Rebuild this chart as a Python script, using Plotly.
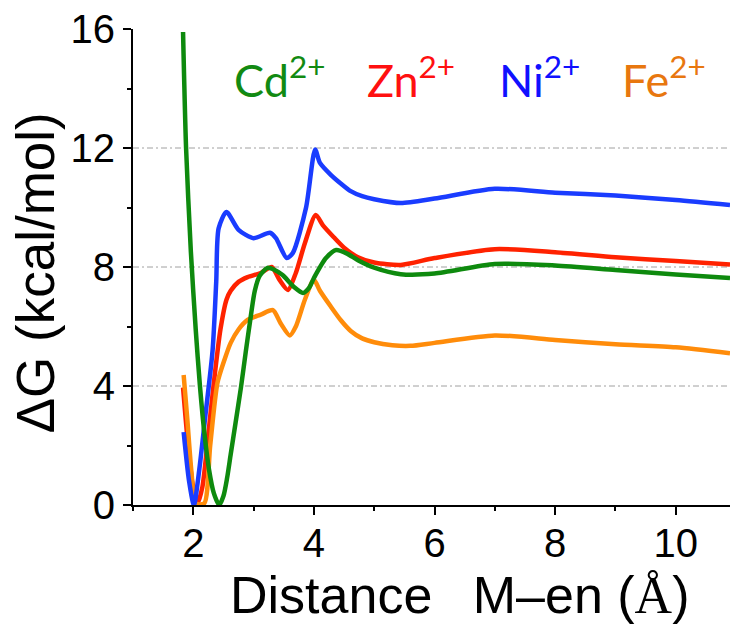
import plotly.graph_objects as go

# ---- data ----
cd_x = [1.83, 1.88, 1.96, 2.04, 2.11, 2.19, 2.26, 2.34, 2.43, 2.50, 2.56, 2.62, 2.70, 2.79, 2.87, 2.95, 3.02, 3.10, 3.23, 3.35, 3.48, 3.67, 3.82, 3.92, 4.00, 4.20, 4.37, 4.55, 4.73, 5.00, 5.44, 6.00, 7.00, 8.00, 9.00, 10.00, 10.90]
cd_y = [15.9, 12.0, 8.5, 5.9, 4.0, 2.3, 1.2, 0.4, 0.0, 0.3, 0.9, 1.7, 2.75, 3.95, 5.15, 6.3, 7.2, 7.7, 7.97, 7.9, 7.73, 7.33, 7.13, 7.3, 7.63, 8.3, 8.57, 8.45, 8.23, 7.98, 7.76, 7.78, 8.1, 8.05, 7.9, 7.75, 7.63]

zn_x = [1.83, 1.90, 1.98, 2.07, 2.15, 2.24, 2.34, 2.45, 2.55, 2.62, 2.75, 2.90, 3.12, 3.30, 3.42, 3.57, 3.70, 3.85, 4.03, 4.15, 4.33, 4.50, 4.73, 5.00, 5.44, 6.00, 7.00, 8.00, 9.00, 10.00, 10.90]
zn_y = [3.95, 2.3, 0.8, 0.05, 0.6, 2.2, 4.1, 5.9, 6.9, 7.2, 7.5, 7.66, 7.8, 8.0, 7.6, 7.23, 7.8, 8.8, 9.75, 9.4, 9.0, 8.65, 8.33, 8.15, 8.07, 8.3, 8.6, 8.5, 8.33, 8.2, 8.08]

ni_x = [1.84, 1.93, 2.01, 2.10, 2.20, 2.32, 2.38, 2.42, 2.55, 2.75, 3.00, 3.27, 3.37, 3.55, 3.65, 3.87, 4.02, 4.10, 4.28, 4.45, 4.61, 4.80, 5.00, 5.44, 6.00, 7.00, 8.00, 9.00, 10.00, 10.90]
ni_y = [2.45, 0.8, 0.0, 1.2, 3.0, 5.2, 7.5, 9.3, 9.85, 9.25, 8.97, 9.15, 8.97, 8.3, 8.47, 10.0, 11.95, 11.5, 11.1, 10.8, 10.55, 10.38, 10.28, 10.15, 10.3, 10.63, 10.5, 10.4, 10.25, 10.08]

fe_x = [1.84, 1.90, 1.97, 2.04, 2.18, 2.28, 2.40, 2.52, 2.62, 2.75, 2.90, 3.12, 3.32, 3.45, 3.60, 3.70, 3.85, 4.00, 4.10, 4.28, 4.45, 4.61, 4.80, 5.00, 5.30, 5.60, 6.00, 7.00, 8.00, 9.00, 10.00, 10.90]
fe_y = [4.37, 2.9, 1.1, 0.05, 0.05, 2.0, 4.1, 4.9, 5.45, 5.9, 6.22, 6.4, 6.55, 6.1, 5.7, 6.0, 6.9, 7.57, 7.2, 6.67, 6.2, 5.85, 5.6, 5.47, 5.37, 5.35, 5.45, 5.7, 5.55, 5.4, 5.3, 5.1]

series_names = ["Cd", "Zn", "Ni", "Fe"]
line_colors = ["#0e8a0e", "#ff2200", "#1a3cff", "#ff8c0a"]
text_colors = ["#128a12", "#ff1010", "#1010ff", "#e8770f"]

x_tickvals = [2, 4, 6, 8, 10]
y_tickvals = [0, 4, 8, 12, 16]
grid_y = [4, 8, 12]

x_title = "Distance\u2002\u00a0M\u2013en (<span style='font-family:Liberation Serif, Times New Roman, serif'>\u00c5</span>)"
y_title = "\u0394G (kcal/mol)"

fig = go.Figure()

xs = [cd_x, zn_x, ni_x, fe_x]
ys = [cd_y, zn_y, ni_y, fe_y]
order = [1, 3, 2, 0]
for i in order:
    fig.add_trace(go.Scatter(
        x=xs[i], y=ys[i], mode="lines", name=series_names[i],
        line=dict(color=line_colors[i], width=4.5, shape="spline", smoothing=0.7),
        showlegend=False, hoverinfo="skip"))

for g in grid_y:
    fig.add_shape(type="line", xref="paper", x0=0, x1=1, yref="y", y0=g, y1=g,
                  line=dict(color="#a0a0a0", width=1, dash="6px,3px,2px,3px"), layer="below")

# legend-like labels
label_pos = [0.166, 0.389, 0.610, 0.816]
for i, name in enumerate(series_names):
    fig.add_annotation(xref="paper", yref="paper", x=label_pos[i], y=0.9,
                       xanchor="left", yanchor="middle", showarrow=False,
                       text=f"{name}<sup>2+</sup>",
                       font=dict(family="Lato, Liberation Sans, Arial", size=45, color=text_colors[i]))

fig.add_annotation(xref="paper", yref="paper", x=-0.164, y=0.487, textangle=-90,
                   xanchor="center", yanchor="middle", showarrow=False, text=y_title,
                   font=dict(family="Liberation Sans, Arial", size=53, color="black"))
fig.add_annotation(xref="paper", yref="paper", x=0.548, y=-0.19,
                   xanchor="center", yanchor="middle", showarrow=False, text=x_title,
                   font=dict(family="Liberation Sans, Arial", size=52, color="black"))

fig.update_layout(
    width=730, height=625,
    margin=dict(l=133, r=0, t=29, b=120),
    paper_bgcolor="white", plot_bgcolor="white",
    xaxis=dict(range=[1, 10.9], tickvals=x_tickvals, showgrid=False, zeroline=False,
               showline=True, linecolor="black", linewidth=2,
               ticks="outside", ticklen=8, tickwidth=2, tickcolor="black",
               ticklabelstandoff=-6,
               minor=dict(ticks="outside", ticklen=4, tickwidth=2, tickcolor="black", dtick=1, tick0=1),
               tickfont=dict(family="Liberation Sans, Arial", size=40, color="black")),
    yaxis=dict(range=[0, 16], tickvals=y_tickvals, showgrid=False, zeroline=False,
               showline=True, linecolor="black", linewidth=2,
               ticks="outside", ticklen=8, tickwidth=2, tickcolor="black",
               minor=dict(ticks="outside", ticklen=4, tickwidth=2, tickcolor="black", dtick=2, tick0=0),
               tickfont=dict(family="Liberation Sans, Arial", size=40, color="black")),
)

fig.write_html("out.html")
